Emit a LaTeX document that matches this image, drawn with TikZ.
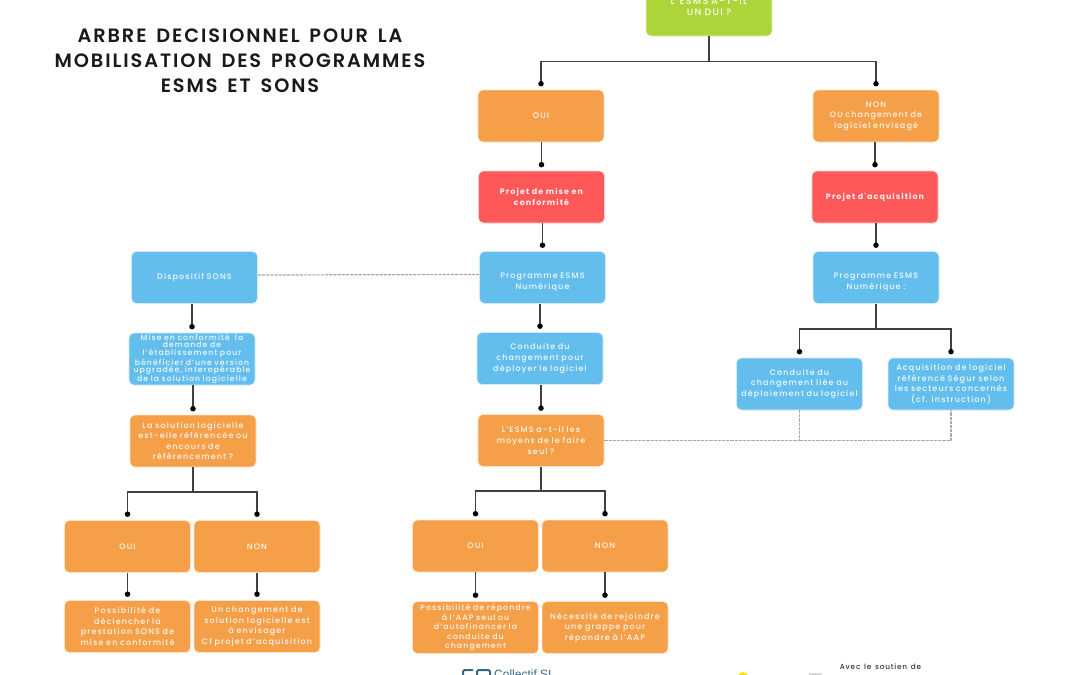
\documentclass[tikz,border=0pt]{standalone}
\usepackage{fontspec}
\setmainfont[LetterSpace=14,WordSpace=3]{Poppins Medium}
\newfontfamily\titlefont[LetterSpace=10,WordSpace=1.5]{Poppins SemiBold}
\newfontfamily\redfont[LetterSpace=14,WordSpace=3]{Poppins Bold}
\newfontfamily\supportfont[LetterSpace=11,WordSpace=1.4]{Poppins Medium}
\newfontfamily\plainfont{Liberation Sans}
\usetikzlibrary{arrows.meta,calc}
\definecolor{cgreen}{HTML}{ABD539}
\definecolor{corange}{HTML}{F59F49}
\definecolor{cred}{HTML}{FF5858}
\definecolor{cblue}{HTML}{63BEEE}
\definecolor{cline}{HTML}{404040}
\definecolor{cdash}{HTML}{A8A8A8}
\tikzset{
 box/.style={rounded corners=5pt,draw=white!70!#1,line width=.6pt,fill=#1,minimum width=126pt,minimum height=52pt,inner sep=0pt,align=center,text=white!92!#1,text width=125pt,font=\fontsize{8}{10.6}\selectfont},
 obox/.style={box=corange},
 bbox/.style={box=cblue},
 rbox/.style={box=cred,font=\redfont\fontsize{7.9}{10.4}\selectfont},
 link/.style={draw=cline,line width=1.2pt,-{Circle[length=5.4pt,width=5.4pt,black]}},
 plain/.style={draw=cline,line width=1.2pt},
 dlink/.style={draw=cdash,line width=1.2pt,dash pattern=on 3.2pt off 1pt},
}
\begin{document}
\begin{tikzpicture}[x=1pt,y=-1pt]
\useasboundingbox (0,0) rectangle (1080,675);
% title
\node[font=\titlefont\fontsize{19.3}{25.2}\selectfont,align=center,text=black!90,inner sep=0] (title) at (240,60.5) {ARBRE DECISIONNEL POUR LA\\MOBILISATION DES PROGRAMMES\\ESMS ET SONS};
% boxes
\node[box=cgreen,minimum height=59pt,font=\fontsize{9.4}{11}\selectfont] (root) at (709,6.5) {L'ESMS A-T-IL\\UN DUI ?};
\node[obox] (oui) at (541,116) {OUI};
\node[obox] (non) at (876,116) {NON\\OU changement de\\logiciel envisagé};
\node[rbox] (rm) at (541.5,197) {Projet de mise en\\conformité};
\node[rbox] (ra) at (875,197) {\raisebox{2pt}{Projet d'acquisition}};
\node[bbox] (sons) at (194.5,277.5) {\raisebox{3pt}{Dispositif SONS}};
\node[bbox] (pm) at (542.5,277.5) {\rule{0pt}{15pt}Programme ESMS\\Numérique};
\node[bbox] (pa) at (876,277.5) {\rule{0pt}{15pt}Programme ESMS\\Numérique :};
\node[bbox,font=\fontsize{7.7}{7.9}\selectfont] (mc) at (192,359) {Mise en conformité\ \ la\\demande de\\l'établissement pour\\bénéficier d'une version\\upgradée, interopérable\\de la solution logicielle};
\node[bbox] (cd) at (540,358.5) {Conduite du\\changement pour\\déployer le logiciel};
\node[bbox] (cl) at (799.5,384) {Conduite du\\changement liée au\\déploiement du logiciel};
\node[bbox] (al) at (951,384) {Acquisition de logiciel\\référencé Ségur selon\\les secteurs concernés\\(cf. instruction)};
\node[obox] (sl) at (193,441) {La solution logicielle\\est-elle référencée ou\\encours de\\référencement ?};
\node[obox] (mo) at (541,440.5) {L'ESMS a-t-il les\\moyens de le faire\\seul ?};
\node[obox] (o1) at (127.5,546.5) {OUI};
\node[obox] (n1) at (257,546.5) {NON};
\node[obox] (o2) at (475.5,546) {OUI};
\node[obox] (n2) at (605,546) {NON};
\node[obox] (p1) at (127.5,626.5) {Possibilité de\\déclencher la\\prestation SONS de\\mise en conformité};
\node[obox] (u1) at (257,626.5) {Un changement de\\solution logicielle est\\à envisager\\Cf projet d'acquisition};
\node[obox,font=\fontsize{7.8}{9.5}\selectfont] (p2) at (475.5,627.5) {Possibilité de répondre\\à l'AAP seul ou\\d'autofinancer la\\conduite du\\changement};
\node[obox] (n3) at (605,627.5) {Nécessité de rejoindre\\une grappe pour\\répondre à l'AAP};
% junctions
\coordinate (j0) at (root.south |- 0,61.5);
\coordinate (j1) at (pa.south |- 0,329);
\coordinate (j2) at (sl.south |- 0,492);
\coordinate (j3) at (mo.south |- 0,491);
\coordinate (jd) at (cl.south |- mo.east);
% tree connectors
\draw[plain] (root.south) -- (j0);
\draw[link] (j0) -| ($(oui.north)+(0,-3.3)$);
\draw[link] (j0) -| ($(non.north)+(0,-3.3)$);
\draw[link] (rm.north |- oui.south) -- ($(rm.north)+(0,-3.3)$);
\draw[link] (ra.north |- non.south) -- ($(ra.north)+(0,-3.3)$);
\draw[link] (pm.north |- rm.south) -- ($(pm.north)+(0,-3.3)$);
\draw[link] (pa.north |- ra.south) -- ($(pa.north)+(0,-3.3)$);
\draw[link] (cd.north |- pm.south) -- ($(cd.north)+(0,-3.3)$);
\draw[link] (mo.north |- cd.south) -- ($(mo.north)+(0,-3.3)$);
\draw[link] (mc.north |- sons.south) -- ($(mc.north)+(0,-3.3)$);
\draw[link] (sl.north |- mc.south) -- ($(sl.north)+(0,-3.3)$);
\draw[plain] (pa.south) -- (j1);
\draw[link] (j1) -| ($(cl.north)+(0,-3.3)$);
\draw[link] (j1) -| ($(al.north)+(0,-3.3)$);
\draw[plain] (sl.south) -- (j2);
\draw[link] (j2) -| ($(o1.north)+(0,-3.3)$);
\draw[link] (j2) -| ($(n1.north)+(0,-3.3)$);
\draw[plain] (mo.south) -- (j3);
\draw[link] (j3) -| ($(o2.north)+(0,-3.3)$);
\draw[link] (j3) -| ($(n2.north)+(0,-3.3)$);
\draw[link] (o1.south) -- ($(p1.north)+(0,-3.3)$);
\draw[link] (n1.south) -- ($(u1.north)+(0,-3.3)$);
\draw[link] (o2.south) -- ($(p2.north)+(0,-3.3)$);
\draw[link] (n2.south) -- ($(n3.north)+(0,-3.3)$);
% dashed
\draw[dlink] ($(sons.east)+(0,-2.5)$) -- ($(pm.west)+(0,-3)$);
\draw[dlink] (mo.east) -- (jd) -- (cl.south);
\draw[dlink] (jd) -| (al.south);
% footer
\node[font=\plainfont\fontsize{12}{12}\selectfont,text=cblue!55!black,inner sep=0,anchor=base west] (cs) at (494,678.5) {Collectif SI};
\draw[draw=cblue!55!black,line width=2pt,rounded corners=2pt] (463,677) -- (463,670) -- (473,670);
\draw[draw=cblue!55!black,line width=2pt,rounded corners=2pt] (477,677) -- (477,670) -- (490,670) -- (490,677);
\fill[yellow!85!orange] (743,677) circle (5pt);
\fill[black!15] (809,672.5) rectangle (822,675);
\node[font=\supportfont\fontsize{7.3}{9}\selectfont,text=black!80,inner sep=0] (av) at (880.5,666.5) {Avec le soutien de};
\end{tikzpicture}
\end{document}
